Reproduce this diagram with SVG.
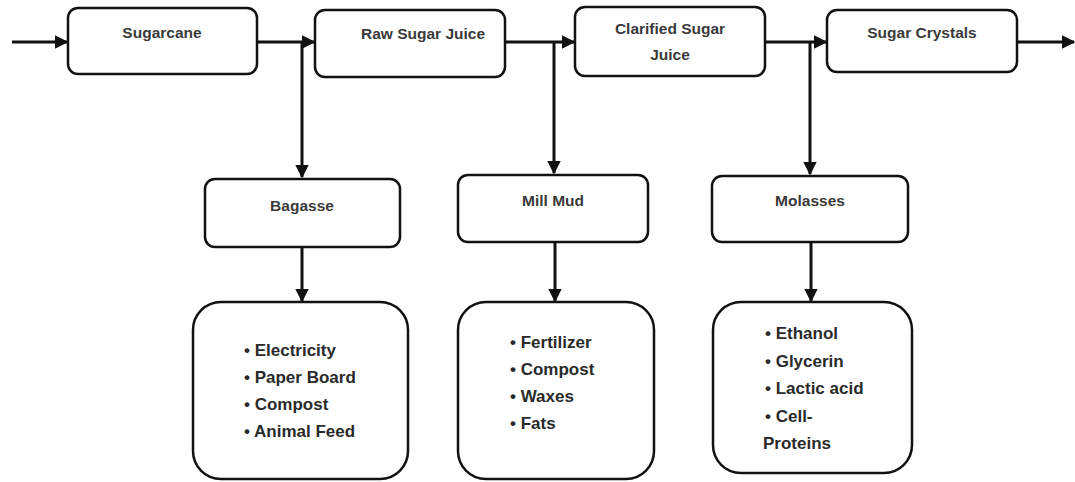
<svg xmlns="http://www.w3.org/2000/svg" width="1075" height="482" viewBox="0 0 1075 482">
<style>
.box{fill:#fff;stroke:#111;stroke-width:2.5}
.lbl{font-family:"Liberation Sans",Arial,sans-serif;font-size:15.5px;font-weight:bold;fill:#3a3a3a;text-anchor:middle}
.lst{font-family:"Liberation Sans",Arial,sans-serif;font-size:17px;font-weight:bold;fill:#2a2a2a}
.cn{stroke:#111;stroke-width:3;fill:none}
</style>
<defs>
<marker id="ah" viewBox="0 0 10 10" refX="9" refY="5" markerWidth="4.5" markerHeight="4.5" orient="auto" markerUnits="strokeWidth">
<path d="M0,0 L10,5 L0,10 z" fill="#111"/>
</marker>
</defs>
<rect width="1075" height="482" fill="#fff"/>
<g id="connectors">
<line class="cn" x1="12" y1="42" x2="67" y2="42" marker-end="url(#ah)"/>
<line class="cn" x1="257" y1="42" x2="314" y2="42" marker-end="url(#ah)"/>
<line class="cn" x1="505" y1="42" x2="574" y2="42" marker-end="url(#ah)"/>
<line class="cn" x1="765" y1="42" x2="826" y2="42" marker-end="url(#ah)"/>
<line class="cn" x1="1017" y1="42" x2="1074" y2="42" marker-end="url(#ah)"/>
<line class="cn" x1="302" y1="42" x2="302" y2="177" marker-end="url(#ah)"/>
<line class="cn" x1="554" y1="42" x2="554" y2="173" marker-end="url(#ah)"/>
<line class="cn" x1="810" y1="42" x2="810" y2="174" marker-end="url(#ah)"/>
<line class="cn" x1="302" y1="247" x2="302" y2="301" marker-end="url(#ah)"/>
<line class="cn" x1="555" y1="242" x2="555" y2="301" marker-end="url(#ah)"/>
<line class="cn" x1="811" y1="242" x2="811" y2="301" marker-end="url(#ah)"/>
</g>
<g id="sugarcane">
<rect class="box" x="68" y="8" width="189" height="66" rx="10"/>
<text class="lbl" x="162" y="38">Sugarcane</text>
</g>
<g id="raw-sugar-juice">
<rect class="box" x="315" y="10" width="190" height="67" rx="10"/>
<text class="lbl" x="423" y="39">Raw Sugar Juice</text>
</g>
<g id="clarified-sugar-juice">
<rect class="box" x="575" y="7" width="190" height="69" rx="10"/>
<text class="lbl" x="670" y="34">Clarified Sugar</text>
<text class="lbl" x="670" y="60">Juice</text>
</g>
<g id="sugar-crystals">
<rect class="box" x="827" y="10" width="190" height="62" rx="10"/>
<text class="lbl" x="922" y="38">Sugar Crystals</text>
</g>
<g id="bagasse">
<rect class="box" x="205" y="179" width="195" height="68" rx="10"/>
<text class="lbl" x="302" y="211">Bagasse</text>
</g>
<g id="mill-mud">
<rect class="box" x="458" y="175" width="190" height="67" rx="10"/>
<text class="lbl" x="553" y="206">Mill Mud</text>
</g>
<g id="molasses">
<rect class="box" x="712" y="176" width="196" height="66" rx="10"/>
<text class="lbl" x="810" y="206">Molasses</text>
</g>
<g id="bagasse-products">
<rect class="box" x="193" y="302" width="215" height="177" rx="28"/>
<text class="lst" x="244" y="356">• Electricity</text>
<text class="lst" x="244" y="383">• Paper Board</text>
<text class="lst" x="244" y="410">• Compost</text>
<text class="lst" x="244" y="437">• Animal Feed</text>
</g>
<g id="mill-mud-products">
<rect class="box" x="458" y="302" width="196" height="177" rx="28"/>
<text class="lst" x="510" y="348">• Fertilizer</text>
<text class="lst" x="510" y="375">• Compost</text>
<text class="lst" x="510" y="402">• Waxes</text>
<text class="lst" x="510" y="429">• Fats</text>
</g>
<g id="molasses-products">
<rect class="box" x="713" y="302" width="199" height="171" rx="28"/>
<text class="lst" x="765" y="339">• Ethanol</text>
<text class="lst" x="765" y="367">• Glycerin</text>
<text class="lst" x="765" y="394">• Lactic acid</text>
<text class="lst" x="765" y="422">• Cell-</text>
<text class="lst" x="763" y="449">Proteins</text>
</g>
</svg>
